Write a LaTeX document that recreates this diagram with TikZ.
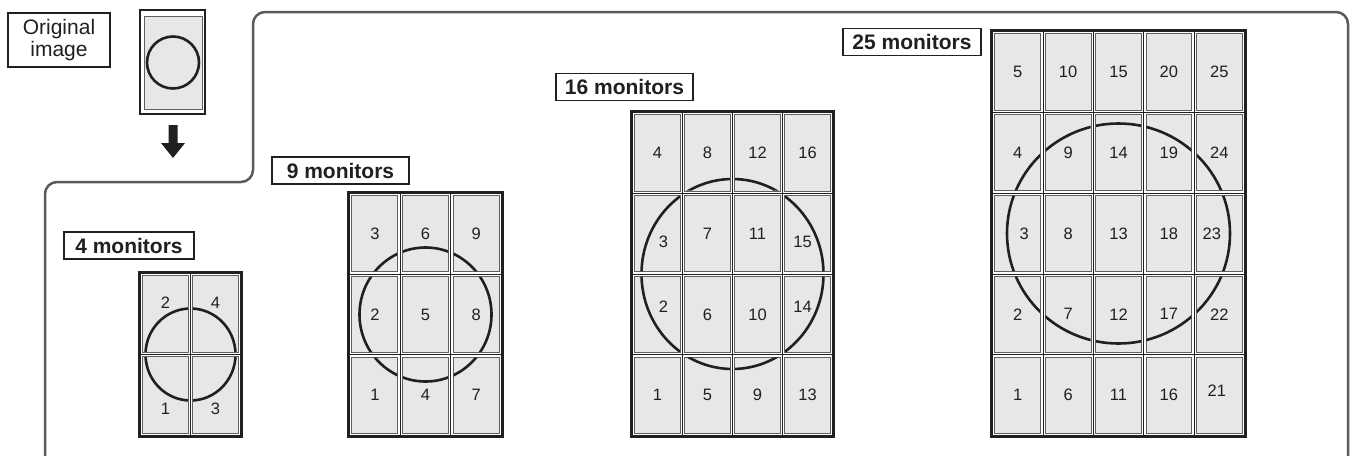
\documentclass[tikz,border=0pt]{standalone}
\usepackage{fontspec}
\setmainfont{Liberation Sans}
\definecolor{scr}{HTML}{E6E7E8}
\definecolor{frm}{HTML}{5A5A5A}
\definecolor{ink}{HTML}{231F20}
\definecolor{scrline}{HTML}{606060}
\tikzset{
  frameline/.style={draw=frm, line width=2.5pt, rounded corners=12pt},
  lbl/.style={draw=ink, line width=1.3pt, fill=white, font=\fontsize{21}{22}\selectfont\bfseries, text=ink, inner sep=0pt, minimum height=27pt},
  origlbl/.style={draw=ink, line width=1.3pt, fill=white, font=\fontsize{21}{22}\selectfont, text=ink, inner sep=0pt, align=center, minimum width=102pt, minimum height=54pt},
  bezel/.style={draw=ink, line width=0.8pt, fill=white},
  screen/.style={draw=scrline, line width=0.8pt, fill=scr},
  gridbox/.style={draw=ink, line width=1.8pt, fill=white},
  num/.style={font=\fontsize{16.5}{17}\selectfont, text=ink, inner sep=0pt},
  picline/.style={draw=ink, line width=2.6pt},
  arrowfill/.style={fill=ink, draw=none},
}
\def\mgsplit#1,#2\relax{\def\mgox{#1}\def\mgoy{#2}}
\newcommand\mgoff[3]{\expandafter\def\csname mgoff@#1@#2\endcsname{#3}}
% offsets of numbers
\mgoff{ga}{2}{0,-11.5}\mgoff{ga}{4}{0,-11.5}
\mgoff{ga}{1}{0,14}\mgoff{ga}{3}{0,14}
\mgoff{gc}{3}{6,8.5}\mgoff{gc}{15}{-5,8.5}
\mgoff{gc}{2}{6,-8}\mgoff{gc}{14}{-5,-8}
\mgoff{gd}{3}{6.5,0}\mgoff{gd}{23}{-7.5,0}
\mgoff{gd}{21}{-2.5,-4}
% #1 name #2 x0 #3 y0 #4 x1 #5 y1 #6 cols #7 rows #8 rx #9 ry
\newcommand\mgrid[9]{%
  \pgfmathsetmacro\mgW{(#4-#2-3)/#6}%
  \pgfmathsetmacro\mgH{(#5-#3-3)/#7}%
  \pgfmathtruncatemacro\mglc{#6-1}%
  \pgfmathtruncatemacro\mglr{#7-1}%
  \draw[gridbox] (#2,#3) rectangle (#4,#5);
  \foreach \i in {0,...,\mglc}{\foreach \j in {0,...,\mglr}{
    \draw[bezel] ({#2+1.5+\i*\mgW},{#3+1.5+\j*\mgH}) rectangle ++(\mgW,\mgH);
    \draw[screen] ({#2+1.5+\i*\mgW+2.3},{#3+1.5+\j*\mgH+2.3}) rectangle ++({\mgW-4.6},{\mgH-4.6});
  }}
  \begin{scope}
    \clip \foreach \i in {0,...,\mglc}{\foreach \j in {0,...,\mglr}{
      ({#2+1.5+\i*\mgW+2.7},{#3+1.5+\j*\mgH+2.7}) rectangle ++({\mgW-5.4},{\mgH-5.4})}};
    \draw[picline] ({(#2+#4)/2},{(#3+#5)/2}) ellipse [x radius=#8, y radius=#9];
  \end{scope}
  \foreach \i in {0,...,\mglc}{\foreach \j in {0,...,\mglr}{
    \pgfmathtruncatemacro\mgn{\i*#7+#7-\j}%
    \def\mgox{0}\def\mgoy{0}%
    \ifcsname mgoff@#1@\mgn\endcsname
      \edef\mgtmp{\csname mgoff@#1@\mgn\endcsname}%
      \expandafter\mgsplit\mgtmp\relax
    \fi
    \node[num] (#1-\mgn) at ({#2+1.5+(\i+0.5)*\mgW+\mgox},{#3+1.5+(\j+0.5)*\mgH+\mgoy}) {\mgn};
  }}
}
\begin{document}
\begin{tikzpicture}[x=1pt,y=-1pt]
\useasboundingbox (0,0) rectangle (1354,455);
% outer frame
\draw[frameline] (45,456) -- (45,182) -- (253,182) -- (253,12) -- (1348,12) -- (1348,456);
% original image
\node[origlbl] (orig) at (59,40) {Original\\image};
\draw[draw=ink, line width=1.6pt, fill=white] (140,10) rectangle (205,114);
\draw[screen, line width=0.9pt] (144,16) rectangle (202,109);
\node[circle, picline, minimum size=52pt, inner sep=0pt] (origpic) at (173,62.5) {};
\fill[arrowfill] (168.7,125) -- (177.7,125) -- (177.7,143) -- (185,143) -- (173,158) -- (161,143) -- (168.7,143) -- cycle;
% grids
\mgrid{ga}{139}{272}{242}{437}{2}{2}{45}{46}
\mgrid{gb}{348}{192}{503}{437}{3}{3}{66}{67}
\mgrid{gc}{631}{111}{834}{437}{4}{4}{91}{95}
\mgrid{gd}{991}{30}{1246}{437}{5}{5}{111.5}{110}
% labels
\node[lbl, minimum width=130pt] (la) at (129,245.5) {4 monitors};
\node[lbl, minimum width=137pt] (lb) at (340.5,170.5) {9 monitors};
\node[lbl, minimum width=137pt] (lc) at (624.5,87) {16 monitors};
\node[lbl, minimum width=138pt] (ld) at (912,42) {25 monitors};
\end{tikzpicture}
\end{document}
